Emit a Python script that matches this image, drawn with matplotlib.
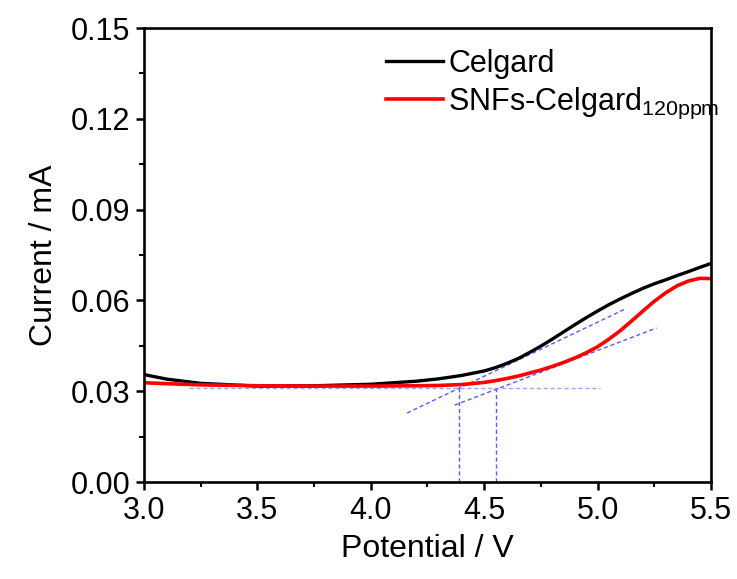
import matplotlib.pyplot as plt
import numpy as np

plt.rcParams['font.family'] = ['Liberation Sans', 'DejaVu Sans']
plt.rcParams['mathtext.default'] = 'regular'

# potential (V) and current (mA)
potential = [3.0, 3.1, 3.25, 3.5, 3.75, 4.0, 4.2, 4.3, 4.4, 4.5, 4.55, 4.6,
             4.65, 4.7, 4.75, 4.8, 4.85, 4.9, 4.95, 5.0, 5.05, 5.1, 5.15,
             5.2, 5.25, 5.3, 5.35, 5.4, 5.45, 5.5]
celgard = [0.0355, 0.0340, 0.0326, 0.0317, 0.0318, 0.0323, 0.0333, 0.0341,
           0.0352, 0.0367, 0.0378, 0.0392, 0.0408, 0.0428, 0.0449, 0.0472,
           0.0496, 0.0520, 0.0543, 0.0565, 0.0586, 0.0605, 0.0623, 0.0640,
           0.0655, 0.0668, 0.0682, 0.0695, 0.0709, 0.0722]
snf_celgard = [0.0328, 0.0325, 0.0321, 0.0318, 0.0317, 0.0317, 0.0318, 0.0319,
               0.0322, 0.0329, 0.0335, 0.0342, 0.0350, 0.0360, 0.0370, 0.0382,
               0.0395, 0.0410, 0.0427, 0.0447, 0.0472, 0.0500, 0.0532, 0.0565,
               0.0597, 0.0625, 0.0648, 0.0664, 0.0673, 0.0672]

# tangent construction (onset potentials)
baseline_x = [3.2, 5.01]
baseline_y = [0.031, 0.031]
tangent1_x = [4.16, 5.12]
tangent1_y = [0.0228, 0.0571]
tangent2_x = [4.37, 5.26]
tangent2_y = [0.0254, 0.0509]
onsets = [4.39, 4.55]
onset_current = 0.031

fig = plt.figure(figsize=(7.37, 5.79), dpi=100)
ax = fig.add_axes([0.1954, 0.1675, 0.7693, 0.7841])

blue = '#5a5aff'
ax.plot(baseline_x, baseline_y, color='#a0a0ff', lw=1.0, ls=(0, (3, 2)))
ax.plot(tangent1_x, tangent1_y, color=blue, lw=1.0, ls=(0, (3, 2)))
ax.plot(tangent2_x, tangent2_y, color=blue, lw=1.0, ls=(0, (3, 2)))
for v in onsets:
    ax.plot([v, v], [0, onset_current], color=blue, lw=1.0, ls=(0, (3, 2)))

ax.plot(potential, celgard, color='black', lw=2.4, label='Celgard')
ax.plot(potential, snf_celgard, color='#ff0000', lw=2.6,
        label='SNFs-Celgard$_{120ppm}$')

ax.set_xlim(3.0, 5.5)
ax.set_ylim(0, 0.15)
ax.set_xticks(np.arange(3.0, 5.51, 0.5))
ax.set_xticks(np.arange(3.0, 5.51, 0.25), minor=True)
ax.set_yticks(np.arange(0, 0.151, 0.03))
ax.set_yticks(np.arange(0, 0.151, 0.015), minor=True)
ax.xaxis.set_major_formatter(plt.FormatStrFormatter('%.1f'))
ax.yaxis.set_major_formatter(plt.FormatStrFormatter('%.2f'))

ax.tick_params(which='major', direction='out', length=6, width=1.8,
               labelsize=22, pad=4)
ax.tick_params(which='minor', direction='out', length=3.5, width=1.5)
for s in ax.spines.values():
    s.set_linewidth(1.9)

ax.set_xlabel('Potential / V', fontsize=23, labelpad=6)
ax.set_ylabel('Current / mA', fontsize=23, labelpad=8)

ax.legend(loc='upper left', bbox_to_anchor=(0.40, 0.988), frameon=False,
          fontsize=22, handlelength=1.85, handletextpad=0.18,
          labelspacing=0.22, borderpad=0)

fig.savefig('out.png', dpi=100)
